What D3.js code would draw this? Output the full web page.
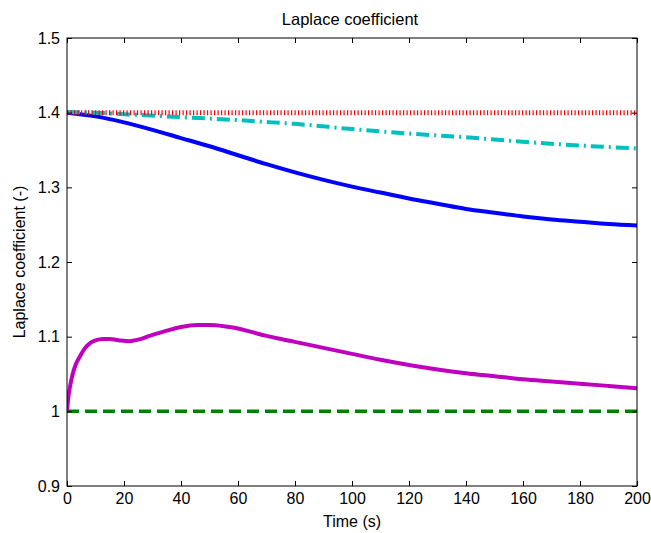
<!DOCTYPE html>
<html>
<head>
<meta charset="utf-8">
<script src="https://cdn.jsdelivr.net/npm/d3@7"></script>
<style>
    body { margin: 0; background: #fff; }
    svg text { font-family: "Liberation Sans", Arial, sans-serif; fill: #000; }
</style>
</head>
<body>
<svg id="svg1" width="651" height="533"></svg>
<script>
"use strict";

// x / y ticks
let xTicks = [0, 20, 40, 60, 80, 100, 120, 140, 160, 180, 200];
let yTicks = [0.9, 1.0, 1.1, 1.2, 1.3, 1.4, 1.5];

// red dotted line
let redT = [0, 200];
let redV = [1.4, 1.4];

// cyan dash-dot line
let cyanT = [0, 10, 20, 40, 60, 72, 80, 100, 120, 140, 160, 180, 200];
let cyanV = [1.401, 1.400, 1.398, 1.394, 1.390, 1.387, 1.385, 1.378, 1.372, 1.367, 1.361, 1.356, 1.352];

// blue solid line
let blueT = [0, 10, 20, 30, 40, 50, 60, 70, 80, 90, 100, 110, 120, 130, 140, 150, 160, 170, 180, 190, 200];
let blueV = [1.400, 1.395, 1.387, 1.377, 1.366, 1.355, 1.343, 1.331, 1.320, 1.310, 1.301, 1.293, 1.285, 1.278, 1.271, 1.266, 1.261, 1.257, 1.254, 1.251, 1.249];

// magenta solid line
let magT = [0, 0.5, 1, 2, 3, 4.6, 6, 8, 10, 12.6, 15, 18.6, 22, 25, 29, 35, 40, 46, 50, 55, 60, 65, 70, 80, 90, 100, 110, 120, 130, 140, 150, 160, 170, 180, 190, 200];
let magV = [1.000, 1.020, 1.032, 1.050, 1.062, 1.074, 1.083, 1.091, 1.095, 1.097, 1.097, 1.095, 1.094, 1.096, 1.101, 1.108, 1.113, 1.1155, 1.1155, 1.114, 1.111, 1.106, 1.101, 1.093, 1.085, 1.077, 1.069, 1.062, 1.056, 1.051, 1.047, 1.043, 1.040, 1.037, 1.034, 1.031];

// green dashed line
let greenT = [0, 200];
let greenV = [1.0, 1.0];

let svg = d3.select("#svg1");
let margin = {top: 38, right: 14, bottom: 47, left: 67};
let width = +svg.attr("width") - margin.left - margin.right;
let height = +svg.attr("height") - margin.top - margin.bottom;

let x = d3.scaleLinear().domain([0, 200]).range([0, width]);
let y = d3.scaleLinear().domain([0.9, 1.5]).range([height, 0]);

let g = svg.append("g").attr("transform", `translate(${margin.left},${margin.top})`);

// clip to the plot box
g.append("clipPath").attr("id", "clip").append("rect").attr("width", width).attr("height", height);

let line = d3.line().x(d => x(d[0])).y(d => y(d[1])).curve(d3.curveMonotoneX);

let series = [
    {t: greenT, v: greenV, color: "#008000", w: 3.5, dash: "12,6"},
    {t: magT, v: magV, color: "#bf00bf", w: 4, dash: null},
    {t: blueT, v: blueV, color: "#0000ff", w: 4, dash: null},
    {t: cyanT, v: cyanV, color: "#00bfbf", w: 4, dash: "13,5,2,5"},
    {t: redT, v: redV, color: "#ff0000", w: 5, dash: "1.2,2.3"}
];

let lines = g.append("g").attr("clip-path", "url(#clip)");
series.forEach(s => {
    lines.append("path")
        .datum(s.t.map((t, i) => [t, s.v[i]]))
        .attr("fill", "none")
        .attr("stroke", s.color)
        .attr("stroke-width", s.w)
        .attr("stroke-dasharray", s.dash)
        .attr("d", line);
});

// axes, MATLAB style: ticks inside, box round the plot
let fmtY = d => d === 1 ? "1" : d3.format(".1f")(d);

g.append("g").attr("transform", `translate(0,${height})`)
    .call(d3.axisBottom(x).tickValues(xTicks).tickSizeInner(-5).tickSizeOuter(0).tickPadding(7))
    .call(a => a.select(".domain").remove())
    .selectAll("text").style("font-size", "16px");

g.append("g")
    .call(d3.axisTop(x).tickValues(xTicks).tickSizeInner(-5).tickSizeOuter(0).tickFormat(""))
    .call(a => a.select(".domain").remove());

g.append("g")
    .call(d3.axisLeft(y).tickValues(yTicks).tickSizeInner(-5).tickSizeOuter(0).tickPadding(7).tickFormat(fmtY))
    .call(a => a.select(".domain").remove())
    .selectAll("text").style("font-size", "16px");

g.append("g").attr("transform", `translate(${width},0)`)
    .call(d3.axisRight(y).tickValues(yTicks).tickSizeInner(-5).tickSizeOuter(0).tickFormat(""))
    .call(a => a.select(".domain").remove());

g.append("rect").attr("width", width).attr("height", height)
    .attr("fill", "none").attr("stroke", "#000").attr("stroke-width", 1);

// titles
svg.append("text").attr("x", 350).attr("y", 25)
    .attr("text-anchor", "middle").style("font-size", "16.5px").text("Laplace coefficient");

svg.append("text").attr("x", margin.left + width / 2).attr("y", 527)
    .attr("text-anchor", "middle").style("font-size", "16px").text("Time (s)");

svg.append("text")
    .attr("transform", `translate(25,${margin.top + height / 2}) rotate(-90)`)
    .attr("text-anchor", "middle").style("font-size", "16px").text("Laplace coefficient (-)");
</script>
</body>
</html>
